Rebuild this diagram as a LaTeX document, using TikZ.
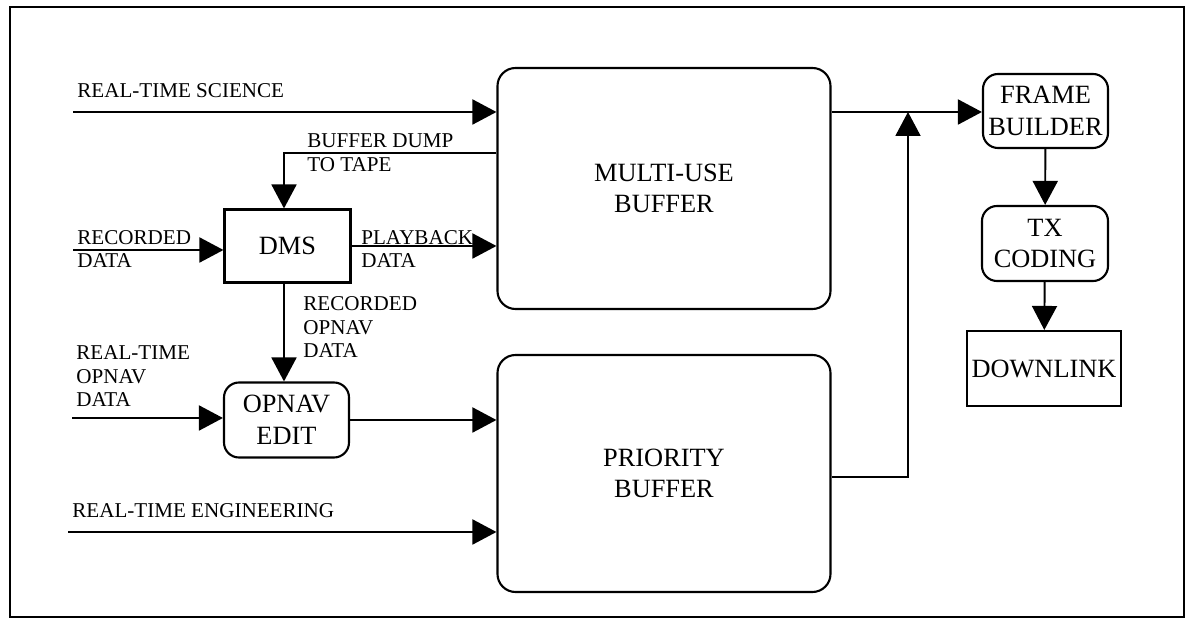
\documentclass[tikz,border=0pt]{standalone}
\usepackage{fontspec}
\setmainfont{Liberation Serif}
\usetikzlibrary{arrows.meta}

\tikzset{
	blk/.style={draw, line width=1.2pt, align=center, inner sep=0pt,
		font=\fontsize{15}{18}\selectfont},
	rblk/.style={blk, rounded corners=3mm},
	lbl/.style={anchor=base west, inner sep=0pt, align=left,
		font=\fontsize{12}{13.6}\selectfont},
	flow/.style={line width=1.1pt, -{Triangle[length=4.8mm,width=5mm]}},
}

\begin{document}
\begin{tikzpicture}
		\useasboundingbox (0,0) rectangle (23.8,12.5);

		% Outer Frame
		\draw[line width=1pt] (0.2,0.16) rectangle (23.68,12.36);

		% Buffers
		\node[rblk, rounded corners=3.6mm, minimum width=6.66cm, minimum height=4.82cm] (MUB) at (13.28, 8.73) {MULTI-USE\\BUFFER};
		\node[rblk, rounded corners=3.6mm, minimum width=6.66cm, minimum height=4.74cm] (PRB) at (13.28, 3.03) {PRIORITY\\BUFFER};

		% Left side Boxes
		\node[blk, minimum width=2.52cm, minimum height=1.46cm] (DMS) at (5.75, 7.58) {DMS};
		\node[rblk, minimum width=2.5cm, minimum height=1.5cm] (OPN) at (5.73, 4.1) {OPNAV\\EDIT};

		% Right side Boxes
		\node[rblk, minimum width=2.5cm, minimum height=1.48cm] (FRM) at (20.91, 10.28) {FRAME\\BUILDER};
		\node[rblk, minimum width=2.52cm, minimum height=1.5cm] (TXC) at (20.9, 7.63) {TX\\CODING};
		\node[blk, minimum width=3.08cm, minimum height=1.5cm] (DWL) at (20.88, 5.13) {DOWNLINK};

		% Free ends
		\coordinate (sci) at (1.46, 10.26);
		\coordinate (rec) at (1.46, 7.5);
		\coordinate (rto) at (1.44, 4.14);
		\coordinate (eng) at (1.36, 1.86);
		\coordinate (dump) at (5.68, 9.44);
		\coordinate (join) at (18.16, 10.26);
		\coordinate (pout) at (18.16, 2.96);

		% Inputs
		\draw[flow] (sci) -- (sci -| MUB.west);
		\draw[flow] (rec) -- (rec -| DMS.west);
		\draw[flow] (rto) -- (rto -| OPN.west);
		\draw[flow] (eng) -- (eng -| PRB.west);

		% Internal paths
		\draw[flow] (dump -| MUB.west) -- (dump) -- (dump |- DMS.north);
		\draw[flow] (DMS.east) -- (DMS.east -| MUB.west);
		\draw[flow] (dump |- DMS.south) -- (dump |- OPN.north);
		\draw[flow] (OPN.east) -- (OPN.east -| PRB.west);

		% Output paths
		\draw[flow] (join -| MUB.east) -- (join -| FRM.west);
		\draw[flow] (pout -| PRB.east) -- (pout) -- (join);
		\draw[flow] (FRM) -- (TXC);
		\draw[flow] (TXC) -- (DWL);

		% Labels
		% -- inputs
		\node[lbl] (l1) at (1.54, 10.54) {REAL-TIME SCIENCE};
		\node[lbl] (l2) at (1.54, 7.6) {RECORDED};
		\node[lbl] (l3) at (1.54, 7.14) {DATA};
		\node[lbl] (l4) at (1.52, 4.36) {REAL-TIME\\OPNAV\\DATA};
		\node[lbl] (l5) at (1.44, 2.14) {REAL-TIME ENGINEERING};

		% -- between boxes
		\node[lbl] (l6) at (6.14, 9.54) {BUFFER DUMP};
		\node[lbl] (l7) at (6.14, 9.06) {TO TAPE};
		\node[lbl] (l8) at (7.22, 7.6) {PLAYBACK};
		\node[lbl] (l9) at (7.22, 7.14) {DATA};
		\node[lbl] (l10) at (6.06, 5.34) {RECORDED\\OPNAV\\DATA};
	\end{tikzpicture}
\end{document}
